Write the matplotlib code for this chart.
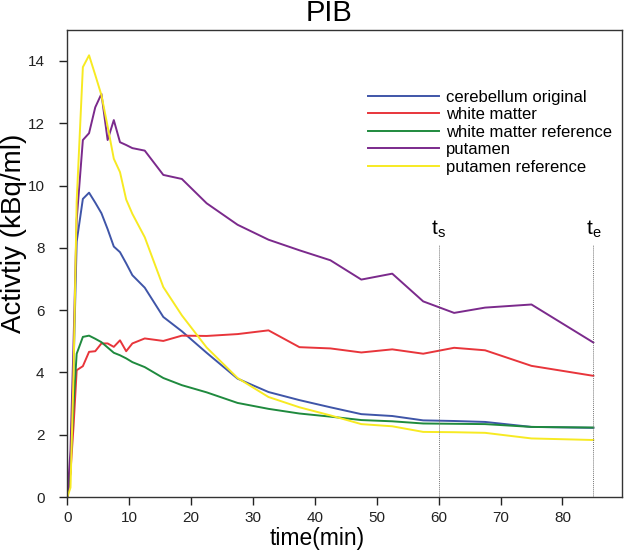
import matplotlib
matplotlib.use("Agg")
import matplotlib.pyplot as plt

plt.rcParams['font.family'] = ['Liberation Sans', 'DejaVu Sans']

# frame mid times (min)
time = [0, 0.5, 1, 1.5, 2.5, 3.5, 4.5, 5.5, 6.5, 7.5, 8.5, 9.5, 10.5, 12.5,
        15.5, 18.5, 22.5, 27.5, 32.5, 37.5, 42.5, 47.5, 52.5, 57.5, 62.5,
        67.5, 75, 85]

cerebellum = [0, 0.8, 4.2, 8.2, 9.57, 9.77, 9.45, 9.11, 8.6, 8.04, 7.86, 7.5,
              7.12, 6.72, 5.78, 5.32, 4.63, 3.8, 3.37, 3.11, 2.88, 2.66, 2.6,
              2.46, 2.44, 2.41, 2.25, 2.22]
white_matter = [0, 0.8, 2.3, 4.07, 4.2, 4.66, 4.68, 4.93, 4.93, 4.82, 5.03,
                4.68, 4.93, 5.09, 5.01, 5.18, 5.17, 5.23, 5.35, 4.81, 4.77,
                4.64, 4.74, 4.6, 4.79, 4.71, 4.21, 3.89]
white_matter_ref = [0, 1.0, 3.0, 4.6, 5.14, 5.18, 5.08, 4.97, 4.8, 4.63, 4.55,
                    4.45, 4.33, 4.17, 3.82, 3.59, 3.36, 3.02, 2.83, 2.68, 2.58,
                    2.47, 2.43, 2.36, 2.35, 2.34, 2.25, 2.23]
putamen = [0, 1.5, 5.0, 8.9, 11.46, 11.68, 12.51, 12.94, 11.46, 12.1, 11.39,
           11.3, 11.2, 11.12, 10.34, 10.21, 9.43, 8.74, 8.26, 7.92, 7.6, 6.98,
           7.17, 6.28, 5.91, 6.08, 6.18, 4.96]
putamen_ref = [0, 0.3, 4.0, 9.5, 13.8, 14.18, 13.55, 12.9, 11.9, 10.86, 10.43,
               9.55, 9.09, 8.34, 6.74, 5.83, 4.8, 3.82, 3.21, 2.88, 2.62, 2.34,
               2.27, 2.09, 2.08, 2.06, 1.88, 1.83]

series = [
    ("cerebellum original", cerebellum, "#3f55a8"),
    ("white matter", white_matter, "#e8353b"),
    ("white matter reference", white_matter_ref, "#1f8a3e"),
    ("putamen", putamen, "#7b2a8c"),
    ("putamen reference", putamen_ref, "#f7ea22"),
]

t_start = 60
t_end = 85

fig = plt.figure(figsize=(6.3, 5.51), dpi=100)
ax = fig.add_axes([0.106, 0.098, 0.881, 0.848])

for name, vals, col in series:
    ax.plot(time, vals, color=col, lw=1.4, label=name)

for tv, lab in [(t_start, "t$_\\mathregular{s}$"), (t_end, "t$_\\mathregular{e}$")]:
    ax.plot([tv, tv], [0, 8.1], color="#777777", lw=0.7, ls=(0, (1, 1)))
    ax.text(tv, 8.25, lab, ha="center", va="bottom", fontsize=15)

ax.set_xlim(-0.1, 89.6)
ax.set_ylim(0, 15)
ax.set_xticks(range(0, 90, 10))
ax.set_yticks(range(0, 15, 2))
ax.tick_params(direction="out", length=6, width=1, labelsize=11, colors="#222222")
ax.tick_params(axis="y", pad=10)
ax.tick_params(axis="x", pad=4)
for s in ax.spines.values():
    s.set_linewidth(1.0)
    s.set_color("#333333")

ax.set_title("PIB", fontsize=21, x=0.472, pad=6)
ax.set_xlabel("time(min)", fontsize=16.5, va="top")
ax.xaxis.set_label_coords(0.452, -0.064)
ax.set_ylabel("Activtiy (kBq/ml)", fontsize=20)
ax.yaxis.set_label_coords(-0.071, 0.565)

ax.legend(loc="upper left", bbox_to_anchor=(0.531, 0.886), frameon=False,
          fontsize=12, handlelength=4.25, handletextpad=0.42, labelspacing=0.15,
          borderaxespad=0)

fig.savefig("out.png", dpi=100)
